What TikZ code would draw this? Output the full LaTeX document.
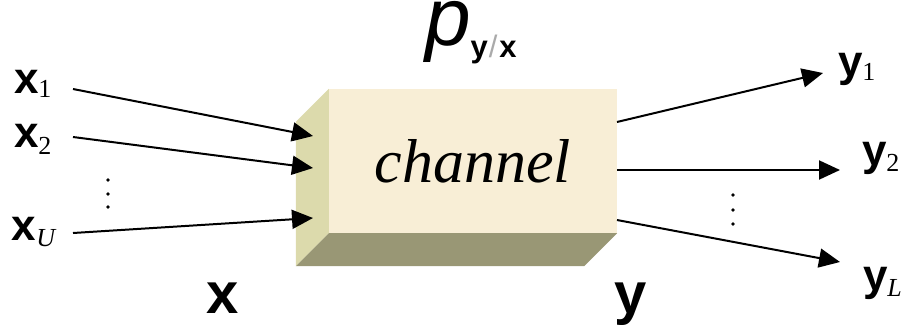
\documentclass[tikz,border=0pt]{standalone}
\usepackage{fontspec}
\setmainfont{Liberation Serif}
\newfontfamily\arialf{Liberation Sans}
\usetikzlibrary{arrows.meta}
\definecolor{cream}{RGB}{248,238,214}
\definecolor{sideface}{RGB}{220,218,172}
\definecolor{bottomface}{RGB}{153,151,117}
\definecolor{slashgray}{RGB}{170,170,170}
\newcommand{\bigbold}[2]{{\arialf\bfseries\fontsize{#1}{#1}\selectfont #2}}
\newcommand{\subrm}[2]{\raisebox{-#1pt}{\fontsize{26}{26}\selectfont #2}}
\begin{document}
\begin{tikzpicture}[x=1pt,y=-1pt,
  lab/.style={inner sep=0pt, outer sep=0pt, anchor=base west},
  arr/.style={line width=2pt, -{Triangle[length=21pt,width=19pt]}},
  dotn/.style={circle, fill=black, inner sep=0pt, minimum size=3.6pt}]
\useasboundingbox (0,0) rectangle (902,324);
% box
\node[draw=none, fill=cream, minimum width=288pt, minimum height=144pt, inner sep=0pt,
  font=\itshape\fontsize{62}{62}\selectfont] (ch) at (473,161) {channel};
\fill[sideface] (ch.north west) -- ++(-33,33) -- ([shift={(-33,33)}]ch.south west) -- (ch.south west) -- cycle;
\fill[bottomface] (ch.south west) -- ++(-33,33) -- ([shift={(-33,33)}]ch.south east) -- (ch.south east) -- cycle;
% labels
\node[lab, text height=40pt] (pyx) at (425,45) {{\arialf\itshape\fontsize{82}{82}\selectfont p}\raisebox{-13pt}{\arialf\bfseries\fontsize{31}{31}\selectfont y\kern1pt\textcolor{slashgray}{\mdseries /}\kern2pt x}};
\node[lab] (x1) at (14,93) {\bigbold{44}{x}\subrm{4}{1}};
\node[lab] (x2) at (14,147) {\bigbold{44}{x}\subrm{7}{2}};
\node[lab] (xU) at (12,240) {\bigbold{44}{x}\subrm{6}{\itshape U}};
\node[lab] (y1) at (838,76) {\bigbold{44}{y}\subrm{4}{1}};
\node[lab] (y2) at (862,165) {\bigbold{44}{y}\subrm{6}{2}};
\node[lab] (yL) at (863,290) {\bigbold{44}{y}\subrm{6}{\itshape L}};
\node[lab] (xb) at (206,313) {\bigbold{58}{x}};
\node[lab] (yb) at (614,313) {\bigbold{58}{y}};
% dots
\node[dotn] (dl1) at (108,180) {};
\node[dotn] (dl2) at (108,194) {};
\node[dotn] (dl3) at (108,207) {};
\node[dotn] (dr1) at (733,195) {};
\node[dotn] (dr2) at (733,210) {};
\node[dotn] (dr3) at (733,224) {};
% arrow endpoints
\coordinate (a1s) at (73,89);  \coordinate (a1e) at (313,136);
\coordinate (a2s) at (73,137); \coordinate (a2e) at (313,168);
\coordinate (aUs) at (73,233); \coordinate (aUe) at (313,218);
\coordinate (b1s) at (617,122); \coordinate (b1e) at (823,73);
\coordinate (b2s) at (617,170); \coordinate (b2e) at (840,170);
\coordinate (bLs) at (617,220); \coordinate (bLe) at (840,262);
\draw[arr] (a1s) -- (a1e);
\draw[arr] (a2s) -- (a2e);
\draw[arr] (aUs) -- (aUe);
\draw[arr] (b1s) -- (b1e);
\draw[arr] (b2s) -- (b2e);
\draw[arr] (bLs) -- (bLe);
\end{tikzpicture}
\end{document}
